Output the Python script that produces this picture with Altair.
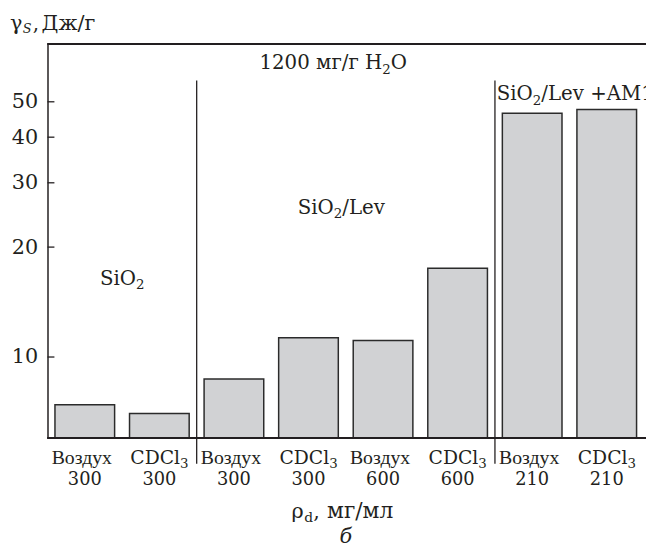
import altair as alt
import pandas as pd

# ---- data ----
ids = ["b1", "b2", "b3", "b4", "b5", "b6", "b7", "b8"]
gas = ["Воздух", "CDCl3", "Воздух", "CDCl3", "Воздух", "CDCl3", "Воздух", "CDCl3"]
density = ["300", "300", "300", "300", "600", "600", "210", "210"]
gamma = [7.4, 7.0, 8.7, 11.3, 11.1, 17.5, 46.5, 47.6]
y_ticks = [10, 20, 30, 40, 50]
separator_before = ["b3", "b7"]

W, H = 604, 399
INK = "#231f20"
LIB = "Liberation Serif"
DJV = "DejaVu Serif"
SUB = 13.5      # subscript font size
SUBW = 8.6      # advance of one subscript digit
SUBDY = 4.5     # subscript drop

df = pd.DataFrame({"id": ids, "gas": gas, "density": density, "gamma": gamma})
ticks_df = pd.DataFrame({"v": y_ticks})
sep_df = pd.DataFrame({"id": separator_before})

xscale = alt.Scale(domain=ids, paddingInner=0.2, paddingOuter=0.1)
yscale = alt.Scale(type="log", domain=[6, 72], nice=False)
yaxis = alt.Axis(values=y_ticks, ticks=False, labelPadding=10, labelFont=DJV,
                 labelFontSize=21, labelColor=INK, domainColor=INK, domainWidth=1.5,
                 grid=False, title=None, format="d")
X = lambda bp=0.5: alt.X("id:N", scale=xscale, axis=None, bandPosition=bp)

bars = alt.Chart(df).mark_bar(fill="#d1d2d4", stroke="#2b2b2b", strokeWidth=1.5).encode(
    x=X(),
    y=alt.Y("gamma:Q", scale=yscale, axis=yaxis, stack=None),
    y2=alt.value(H),
)

tick_marks = alt.Chart(ticks_df).mark_rule(color=INK, strokeWidth=1.3).encode(
    y=alt.Y("v:Q", scale=yscale, axis=yaxis),
    x=alt.value(0), x2=alt.value(7),
)

top_line = alt.Chart(ticks_df).mark_rule(color=INK, strokeWidth=1.5).encode(
    y=alt.value(0), x=alt.value(0), x2=alt.value(W + 4))
bottom_line = alt.Chart(ticks_df).mark_rule(color=INK, strokeWidth=1.5).encode(
    y=alt.value(H), x=alt.value(0), x2=alt.value(W + 4))

separators = alt.Chart(sep_df).mark_rule(color=INK, strokeWidth=1.3, xOffset=-7.5).encode(
    x=X(0), y=alt.value(37), y2=alt.value(425),
)

# ---- category labels below the axis ----
air = alt.datum.gas == "Воздух"
row1a = alt.Chart(df).transform_filter(air).mark_text(
    font=LIB, fontSize=20, color=INK, baseline="alphabetic", xOffset=-3).encode(
    x=X(), y=alt.value(425), text="gas:N")
# "CDCl" + subscript "3"
row1b = alt.Chart(df).transform_filter(~air).mark_text(
    font=DJV, fontSize=19, color=INK, baseline="alphabetic", align="right", xOffset=21,
    text="CDCl").encode(x=X(), y=alt.value(425))
row1c = alt.Chart(df).transform_filter(~air).mark_text(
    font=DJV, fontSize=SUB, color=INK, baseline="alphabetic", align="left", xOffset=21,
    dy=SUBDY, text="3").encode(x=X(), y=alt.value(425))
row2 = alt.Chart(df).mark_text(font=DJV, fontSize=18, color=INK, baseline="alphabetic").encode(
    x=X(), y=alt.value(447), text="density:N")

# ---- annotations inside the plot: anchor (band, band position, shift, value) ----
# each piece: (text, size, align, extra shift, drop)
annotations = [
    ("b2", 0.0, 6.5, 15.75, [("SiO", 20, "right", 0, 0), ("2", SUB, "left", 0, SUBDY)]),
    ("b4", 1.0, -4.6, 24.7, [("SiO", 20, "right", 0, 0), ("2", SUB, "left", 0, SUBDY),
                            ("/Lev", 20, "left", SUBW, 0)]),
    ("b5", 0.5, -0.8, 61.4, [("1200 мг/г H", 20, "right", 0, 0), ("2", SUB, "left", 0, SUBDY),
                            ("O", 20, "left", SUBW, 0)]),
    ("b7", 0.0, 30.8, 50.5, [("SiO", 20, "right", 0, 0), ("2", SUB, "left", 0, SUBDY),
                            ("/Lev +AM1", 20, "left", SUBW, 0)]),
]
ann_layers = []
for (bid, bp, off, val, pieces) in annotations:
    d = pd.DataFrame({"id": [bid], "val": [val]})
    for (txt, size, al, extra, drop) in pieces:
        ann_layers.append(
            alt.Chart(d).mark_text(text=txt, font=DJV, fontSize=size, color=INK,
                                   baseline="alphabetic", align=al, xOffset=off + extra,
                                   dy=drop).encode(
                x=X(bp), y=alt.Y("val:Q", scale=yscale, axis=yaxis)))


def label(txt, x, y, size=20, style="normal", align="left", font=DJV):
    return alt.Chart(ticks_df.iloc[[0]]).mark_text(
        text=txt, font=font, fontSize=size, fontStyle=style, color=INK,
        align=align, baseline="alphabetic").encode(x=alt.value(x), y=alt.value(y))


title_parts = [
    label("γ", -38, -14, 21),
    label("S", -25, -11, 13, "italic"),
    label(",", -15, -14, 20),
    label("Дж/г", -6, -14, 21),
]
xtitle_parts = [
    label("ρ", 247, 480, 21),
    label("d", 260, 484, 14),
    label(",", 269, 480, 21),
    label("мг/мл", 283, 480, 22),
    label("б", 302, 505, 21, "italic", "center"),
]

chart = alt.layer(
    bars, tick_marks, top_line, bottom_line, separators, row1a, row1b, row1c, row2,
    *ann_layers, *title_parts, *xtitle_parts
).properties(
    width=W, height=H,
    autosize=alt.AutoSizeParams(type="none"),
    padding={"left": 40, "top": 33, "right": 2, "bottom": 113},
).configure_view(stroke=None)

chart.save("out.html", embed_options={"renderer": "svg", "actions": False})
